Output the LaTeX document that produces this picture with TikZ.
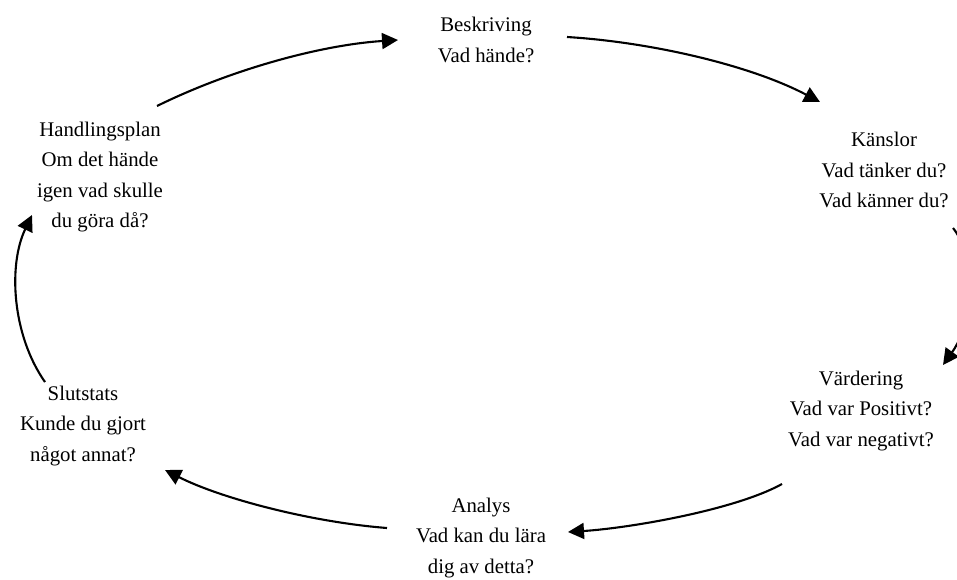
\documentclass[tikz,border=0pt]{standalone}
\usepackage{fontspec}
\setmainfont{Liberation Serif}
\usetikzlibrary{arrows.meta}
\begin{document}
\begin{tikzpicture}[x=1pt,y=-1pt,
  lbl/.style={align=center,inner sep=0pt,font=\fontsize{20.8}{30.5}\selectfont},
  conn/.style={line width=2.1pt,-{Triangle[width=16pt,length=16pt]}}]
\useasboundingbox (0,0) rectangle (957,579);
\clip (0,0) rectangle (957,579);
\node[lbl] (besk) at (486,40) {Beskriving\\Vad hände?};
\node[lbl] (kans) at (884,170) {Känslor\\Vad tänker du?\\Vad känner du?};
\node[lbl] (vard) at (861,411) {Värdering\\Vad var Positivt?\\Vad var negativt?};
\node[lbl] (anal) at (481,538) {Analys\\Vad kan du lära\\dig av detta?};
\node[lbl] (slut) at (83,426) {Slutstats\\Kunde du gjort\\något annat?};
\node[lbl] (hand) at (100,177) {Handlingsplan\\Om det hände\\igen vad skulle\\du göra då?};
\coordinate (h1) at (157,106);
\coordinate (b0) at (398,40);
\coordinate (b1) at (567,37);
\coordinate (k0) at (820,102);
\coordinate (k1) at (953,228);
\coordinate (v0) at (943,365);
\coordinate (v1) at (782,484);
\coordinate (a0) at (568,532);
\coordinate (a1) at (387,528);
\coordinate (s0) at (165,470);
\coordinate (s1) at (45,382);
\coordinate (hh) at (32,215);
\draw[conn] (h1) .. controls (230,70) and (320,45) .. (b0);
\draw[conn] (b1) .. controls (650,42) and (750,65) .. (k0);
\draw[conn] (k1) .. controls (975,255) and (975,320) .. (v0);
\draw[conn] (v1) .. controls (735,510) and (630,528) .. (a0);
\draw[conn] (a1) .. controls (310,522) and (220,498) .. (s0);
\draw[conn] (s1) .. controls (12,335) and (8,265) .. (hh);
\end{tikzpicture}
\end{document}
